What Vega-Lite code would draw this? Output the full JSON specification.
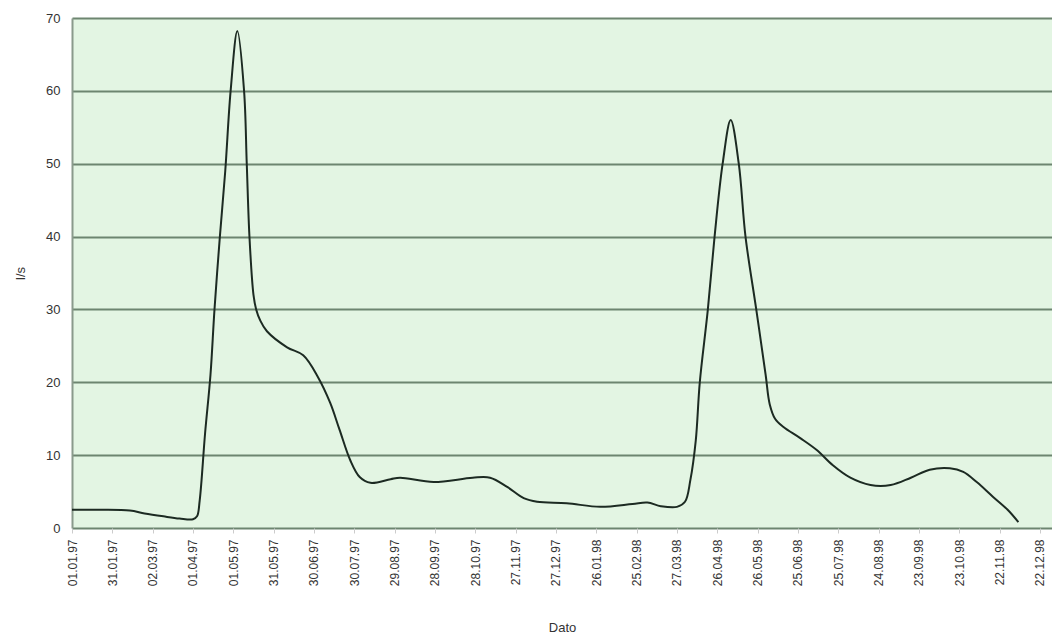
{
  "$schema": "https://vega.github.io/schema/vega-lite/v6.json",
  "autosize": {"type": "none"},
  "padding": {"left": 72, "top": 18, "right": 0, "bottom": 115},
  "width": 980,
  "height": 510,
  "background": "#ffffff",
  "config": {
    "view": {"fill": "#e3f5e3", "stroke": null},
    "font": "Liberation Sans"
  },
  "data": {
    "values": [
      {"date": "1997-01-01", "v": 2.5},
      {"date": "1997-01-22", "v": 2.5},
      {"date": "1997-02-13", "v": 2.4},
      {"date": "1997-02-24", "v": 2.0},
      {"date": "1997-03-10", "v": 1.6},
      {"date": "1997-03-22", "v": 1.3},
      {"date": "1997-04-01", "v": 1.2},
      {"date": "1997-04-04", "v": 1.6},
      {"date": "1997-04-06", "v": 3.8},
      {"date": "1997-04-10", "v": 13},
      {"date": "1997-04-14", "v": 21},
      {"date": "1997-04-17", "v": 30},
      {"date": "1997-04-21", "v": 40},
      {"date": "1997-04-25", "v": 49},
      {"date": "1997-04-29", "v": 60},
      {"date": "1997-05-04", "v": 68.2},
      {"date": "1997-05-09", "v": 60},
      {"date": "1997-05-11", "v": 50},
      {"date": "1997-05-13", "v": 40},
      {"date": "1997-05-16", "v": 32},
      {"date": "1997-05-18", "v": 30},
      {"date": "1997-05-21", "v": 28.5},
      {"date": "1997-05-26", "v": 27},
      {"date": "1997-06-10", "v": 24.8},
      {"date": "1997-06-22", "v": 23.7},
      {"date": "1997-07-03", "v": 20.7},
      {"date": "1997-07-12", "v": 17.2},
      {"date": "1997-07-19", "v": 13.5},
      {"date": "1997-07-27", "v": 9.3},
      {"date": "1997-08-03", "v": 7.0},
      {"date": "1997-08-11", "v": 6.2},
      {"date": "1997-08-26", "v": 6.7},
      {"date": "1997-09-02", "v": 6.9},
      {"date": "1997-09-27", "v": 6.3},
      {"date": "1997-10-26", "v": 6.9},
      {"date": "1997-11-08", "v": 6.9},
      {"date": "1997-11-21", "v": 5.6},
      {"date": "1997-12-03", "v": 4.1},
      {"date": "1997-12-13", "v": 3.6},
      {"date": "1998-01-04", "v": 3.4},
      {"date": "1998-01-29", "v": 2.9},
      {"date": "1998-02-22", "v": 3.3},
      {"date": "1998-03-05", "v": 3.5},
      {"date": "1998-03-15", "v": 3.0},
      {"date": "1998-03-27", "v": 2.9},
      {"date": "1998-04-02", "v": 3.6},
      {"date": "1998-04-06", "v": 6.6},
      {"date": "1998-04-10", "v": 12},
      {"date": "1998-04-13", "v": 20},
      {"date": "1998-04-19", "v": 30},
      {"date": "1998-04-24", "v": 40},
      {"date": "1998-04-30", "v": 50},
      {"date": "1998-05-06", "v": 56},
      {"date": "1998-05-12", "v": 50},
      {"date": "1998-05-17", "v": 40},
      {"date": "1998-05-25", "v": 30},
      {"date": "1998-06-01", "v": 21},
      {"date": "1998-06-04", "v": 17},
      {"date": "1998-06-08", "v": 15},
      {"date": "1998-06-14", "v": 13.9},
      {"date": "1998-06-27", "v": 12.3},
      {"date": "1998-07-09", "v": 10.7},
      {"date": "1998-07-21", "v": 8.6},
      {"date": "1998-08-03", "v": 6.9},
      {"date": "1998-08-18", "v": 5.9},
      {"date": "1998-09-02", "v": 5.9},
      {"date": "1998-09-17", "v": 6.9},
      {"date": "1998-10-01", "v": 8.0},
      {"date": "1998-10-16", "v": 8.2},
      {"date": "1998-10-26", "v": 7.7},
      {"date": "1998-11-05", "v": 6.3},
      {"date": "1998-11-17", "v": 4.3},
      {"date": "1998-11-28", "v": 2.5},
      {"date": "1998-12-06", "v": 0.8}
    ]
  },
  "mark": {"type": "line", "color": "#1c2a22", "strokeWidth": 2, "interpolate": "catmull-rom", "clip": true},
  "encoding": {
    "x": {
      "field": "date",
      "type": "temporal",
      "title": "Dato",
      "scale": {
        "type": "utc",
        "domain": [
          {"year": 1997, "month": 1, "date": 1, "utc": true},
          {"year": 1998, "month": 12, "date": 31, "utc": true}
        ]
      },
      "axis": {
        "values": [
          {"year": 1997, "month": 1, "date": 1, "utc": true},
          {"year": 1997, "month": 1, "date": 31, "utc": true},
          {"year": 1997, "month": 3, "date": 2, "utc": true},
          {"year": 1997, "month": 4, "date": 1, "utc": true},
          {"year": 1997, "month": 5, "date": 1, "utc": true},
          {"year": 1997, "month": 5, "date": 31, "utc": true},
          {"year": 1997, "month": 6, "date": 30, "utc": true},
          {"year": 1997, "month": 7, "date": 30, "utc": true},
          {"year": 1997, "month": 8, "date": 29, "utc": true},
          {"year": 1997, "month": 9, "date": 28, "utc": true},
          {"year": 1997, "month": 10, "date": 28, "utc": true},
          {"year": 1997, "month": 11, "date": 27, "utc": true},
          {"year": 1997, "month": 12, "date": 27, "utc": true},
          {"year": 1998, "month": 1, "date": 26, "utc": true},
          {"year": 1998, "month": 2, "date": 25, "utc": true},
          {"year": 1998, "month": 3, "date": 27, "utc": true},
          {"year": 1998, "month": 4, "date": 26, "utc": true},
          {"year": 1998, "month": 5, "date": 26, "utc": true},
          {"year": 1998, "month": 6, "date": 25, "utc": true},
          {"year": 1998, "month": 7, "date": 25, "utc": true},
          {"year": 1998, "month": 8, "date": 24, "utc": true},
          {"year": 1998, "month": 9, "date": 23, "utc": true},
          {"year": 1998, "month": 10, "date": 23, "utc": true},
          {"year": 1998, "month": 11, "date": 22, "utc": true},
          {"year": 1998, "month": 12, "date": 22, "utc": true}
        ],
        "labelExpr": "utcFormat(datum.value, '%d.%m.%y')",
        "labelAngle": -90,
        "labelFontSize": 12,
        "labelColor": "#333333",
        "labelPadding": 6,
        "grid": false,
        "domain": false,
        "ticks": true,
        "tickColor": "#cccccc",
        "tickSize": 5,
        "titleFontSize": 13,
        "titleFontWeight": "normal",
        "titleColor": "#333333",
        "titlePadding": 36
      }
    },
    "y": {
      "field": "v",
      "type": "quantitative",
      "title": "l/s",
      "scale": {"domain": [0, 70], "nice": false},
      "axis": {
        "values": [0, 10, 20, 30, 40, 50, 60, 70],
        "grid": true,
        "gridColor": "#6d8570",
        "gridWidth": 2,
        "domain": true,
        "domainColor": "#8a9a8c",
        "domainWidth": 2,
        "ticks": false,
        "labelPadding": 12,
        "labelFontSize": 13,
        "labelColor": "#333333",
        "titleFontSize": 13,
        "titleFontWeight": "normal",
        "titleColor": "#333333",
        "titlePadding": 18
      }
    }
  }
}
